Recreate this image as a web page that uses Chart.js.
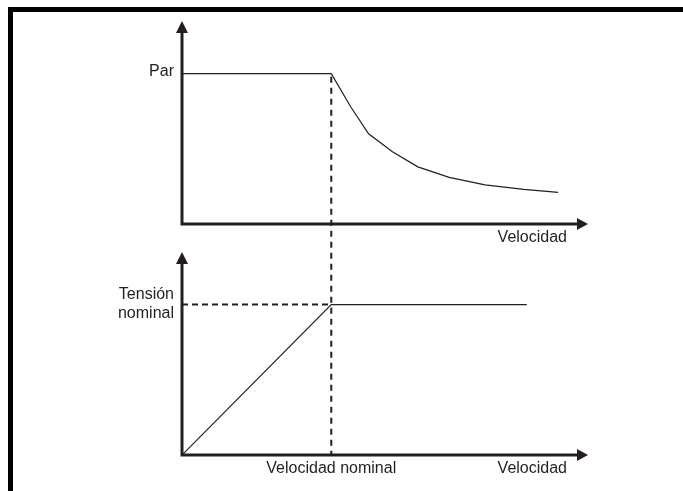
<!DOCTYPE html>
<html>
<head>
<meta charset="utf-8">
<script src="https://cdn.jsdelivr.net/npm/chart.js@4/dist/chart.umd.min.js"></script>
<style>
  body { margin: 0; background: #fff; }
  #caja { position: absolute; left: 8px; top: 7px; width: 700px; height: 500px;
          border-top: 5px solid #000; border-left: 5px solid #000; }
  #grafico { position: absolute; left: 0; top: 0; }
</style>
</head>
<body>
<div id="caja"></div>
<canvas id="grafico" width="683" height="491"></canvas>
<script>
// par frente a velocidad (1 = velocidad nominal, 1 = par nominal)
const parVel = [0, 1, 1.13, 1.25, 1.41, 1.58, 1.79, 2.03, 2.29, 2.52];
const parVal = [1, 1, 0.78, 0.6, 0.48, 0.38, 0.31, 0.26, 0.23, 0.21];

// tension de salida frente a velocidad
const tensionVel = [0, 1, 2.31];
const tensionVal = [0, 1, 1];

const velNominal = 1;
const tensionNominal = 1;

const txtPar = 'Par';
const txtTension = ['Tensión', 'nominal'];
const txtVelocidad = 'Velocidad';
const txtVelNominal = 'Velocidad nominal';

// rango de cada panel en unidades de los datos
const ejeX = 2.72;
const ejeY = 1.35;
const hueco = 0.186;

const NEGRO = '#231f20';
const FUENTE = '16px "Liberation Sans", Arial, sans-serif';

function puntos(xs, ys) {
  return xs.map((x, i) => ({ x: x, y: ys[i] }));
}

function flecha(ctx, x, y, dir) {
  ctx.beginPath();
  if (dir == 'arriba') {
    ctx.moveTo(x, y); ctx.lineTo(x - 6, y + 12); ctx.lineTo(x + 6, y + 12);
  } else {
    ctx.moveTo(x, y); ctx.lineTo(x - 11, y - 6); ctx.lineTo(x - 11, y + 6);
  }
  ctx.closePath();
  ctx.fill();
}

const ejes = {
  id: 'ejes',
  afterDatasetsDraw(chart) {
    const ctx = chart.ctx;
    const x = chart.scales.x;
    const x0 = x.getPixelForValue(0);
    const xFin = x.getPixelForValue(ejeX);
    ctx.save();
    ctx.strokeStyle = NEGRO;
    ctx.fillStyle = NEGRO;

    // ejes con flecha de los dos paneles
    ['yPar', 'yTen'].forEach(id => {
      const y = chart.scales[id];
      const y0 = y.getPixelForValue(0);
      const yTop = y.getPixelForValue(ejeY);
      ctx.lineWidth = 3;
      ctx.beginPath();
      ctx.moveTo(x0, yTop + 10);
      ctx.lineTo(x0, y0);
      ctx.lineTo(xFin - 9, y0);
      ctx.stroke();
      flecha(ctx, x0, yTop, 'arriba');
      flecha(ctx, xFin, y0, 'derecha');
    });

    // linea de velocidad nominal que cruza ambos paneles
    const xn = x.getPixelForValue(velNominal);
    ctx.lineWidth = 2;
    ctx.setLineDash([6, 5]);
    ctx.beginPath();
    ctx.moveTo(xn, chart.scales.yPar.getPixelForValue(parVal[1]) + 3);
    ctx.lineTo(xn, chart.scales.yTen.getPixelForValue(0));
    ctx.stroke();
    ctx.setLineDash([]);

    // textos
    ctx.font = FUENTE;
    ctx.textBaseline = 'middle';
    ctx.textAlign = 'right';
    const yp = chart.scales.yPar.getPixelForValue(1);
    ctx.fillText(txtPar, x0 - 8, yp - 2);
    const yt = chart.scales.yTen.getPixelForValue(tensionNominal);
    ctx.fillText(txtTension[0], x0 - 8, yt - 10);
    ctx.fillText(txtTension[1], x0 - 8, yt + 9);
    const xv = xFin - 21;
    ctx.fillText(txtVelocidad, xv, chart.scales.yPar.getPixelForValue(0) + 14);
    ctx.fillText(txtVelocidad, xv, chart.scales.yTen.getPixelForValue(0) + 14);
    ctx.textAlign = 'center';
    ctx.fillText(txtVelNominal, xn, chart.scales.yTen.getPixelForValue(0) + 14);
    ctx.restore();
  }
};

new Chart(document.getElementById('grafico'), {
  type: 'line',
  data: {
    datasets: [
      {
        data: puntos(parVel, parVal),
        yAxisID: 'yPar',
        borderColor: NEGRO,
        borderWidth: 1.2
      },
      {
        data: puntos(tensionVel, tensionVal),
        yAxisID: 'yTen',
        borderColor: NEGRO,
        borderWidth: 1.2
      },
      {
        data: puntos([0, velNominal], [tensionNominal, tensionNominal]),
        yAxisID: 'yTen',
        borderColor: NEGRO,
        borderWidth: 2,
        borderDash: [6, 4]
      }
    ]
  },
  options: {
    responsive: false,
    animation: false,
    layout: { padding: { left: 182, right: 95, top: 21, bottom: 36 } },
    elements: { point: { radius: 0 }, line: { tension: 0 } },
    plugins: { legend: { display: false }, tooltip: { enabled: false } },
    scales: {
      x: { type: 'linear', min: 0, max: ejeX, display: false },
      yPar: { min: -(ejeY + hueco), max: ejeY, display: false },
      yTen: { min: 0, max: 2 * ejeY + hueco, display: false }
    }
  },
  plugins: [ejes]
});
</script>
</body>
</html>
